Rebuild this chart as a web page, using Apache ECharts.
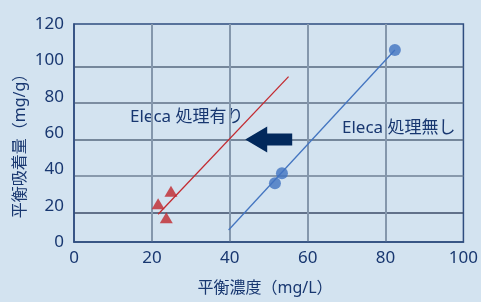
<!DOCTYPE html>
<html>
<head>
<meta charset="utf-8">
<script src="https://cdn.jsdelivr.net/npm/echarts@6/dist/echarts.min.js"></script>
<style>
  html, body { margin: 0; padding: 0; background: #d3e3f0; }
  #chart { width: 481px; height: 302px; }
</style>
</head>
<body>
<div id="chart"></div>
<script>
// 処理有り（赤）
var treatedX = [21.6, 24.9, 23.7];
var treatedY = [24.7, 31.6, 17.0];
var treatedFitX = [21.6, 55.1];
var treatedFitY = [18.9, 94.4];
// 処理無し（青）
var untreatedX = [51.6, 53.4, 82.4];
var untreatedY = [35.9, 41.4, 109.0];
var untreatedFitX = [39.7, 82.4];
var untreatedFitY = [10.3, 109.0];

var xTicks = [0, 20, 40, 60, 80, 100];
var yTicks = [0, 20, 40, 60, 80, 100, 120];

var FONT = "'Noto Sans', 'Noto Sans CJK JP', sans-serif";
var NAVY = "#183770";

function pairs(xs, ys) {
  return xs.map(function (x, i) { return [x, ys[i]]; });
}

var chart = echarts.init(document.getElementById("chart"));

var option = {
  backgroundColor: "#d3e3f0",
  animation: false,
  grid: {
    left: 74, right: 14, top: 24, bottom: 60,
    show: true,
    backgroundColor: "transparent",
    borderColor: "#2f4d7f",
    borderWidth: 1.5
  },
  xAxis: {
    type: "value",
    min: xTicks[0],
    max: xTicks[xTicks.length - 1],
    interval: 20,
    axisLine: { show: true, lineStyle: { color: "#2f4d7f", width: 1.5 } },
    axisTick: { show: false },
    axisLabel: { color: NAVY, fontSize: 17, fontFamily: FONT, margin: 8 },
    splitLine: {
      show: true,
      lineStyle: {
        width: 2,
        color: ["transparent", "#8497ac", "#8497ac", "#8497ac", "#8497ac", "transparent"]
      }
    }
  },
  yAxis: [
    {
      // 目盛り線とデータ用
      type: "value",
      min: 3.7,
      max: 123.3,
      position: "left",
      axisLine: { show: true, lineStyle: { color: "#2f4d7f", width: 1.5 } },
      axisTick: { show: false },
      axisLabel: { show: false },
      splitLine: {
        show: true,
        lineStyle: {
          width: 1.5,
          color: ["transparent", "#3b4b69", "#6f8196", "#56687f", "#5f7187", "#56687f", "transparent", "transparent"]
        }
      }
    },
    {
      // 目盛りラベル用
      type: "value",
      min: yTicks[0],
      max: yTicks[yTicks.length - 1],
      interval: 20,
      position: "left",
      axisLine: { show: false },
      axisTick: { show: false },
      splitLine: { show: false },
      axisLabel: { color: NAVY, fontSize: 17, fontFamily: FONT, margin: 10 }
    }
  ],
  series: [
    {
      type: "line",
      yAxisIndex: 0,
      data: pairs(treatedFitX, treatedFitY),
      symbol: "none",
      lineStyle: { color: "#c32a30", width: 1.3 },
      z: 2
    },
    {
      type: "line",
      yAxisIndex: 0,
      data: pairs(untreatedFitX, untreatedFitY),
      symbol: "none",
      lineStyle: { color: "#4475c0", width: 1.3 },
      z: 2,
      markPoint: {
        symbol: "path://M0,13 L22,0 L22,7 L47,7 L47,19 L22,19 L22,26 Z",
        symbolSize: [47, 26],
        itemStyle: { color: "#02295c" },
        label: { show: false },
        data: [{ coord: [50, 60] }]
      }
    },
    {
      type: "scatter",
      yAxisIndex: 0,
      data: pairs(treatedX, treatedY),
      symbol: "triangle",
      symbolSize: [13, 11],
      itemStyle: { color: "#c0272d" },
      z: 3
    },
    {
      type: "scatter",
      yAxisIndex: 0,
      data: pairs(untreatedX, untreatedY),
      symbol: "circle",
      symbolSize: 12,
      itemStyle: { color: "#4173c0" },
      z: 3
    }
  ],
  graphic: [
    {
      type: "text", x: 130, y: 117,
      style: { text: "Eleca 処理有り", font: "17px " + FONT, fill: NAVY, verticalAlign: "middle" }
    },
    {
      type: "text", x: 342, y: 128,
      style: { text: "Eleca 処理無し", font: "17px " + FONT, fill: NAVY, verticalAlign: "middle" }
    },
    {
      type: "text", x: 20, y: 142, rotation: Math.PI / 2,
      style: { text: "平衡吸着量（mg/g）", font: "16px " + FONT, fill: NAVY, align: "center", verticalAlign: "middle" }
    },
    {
      type: "text", x: 265, y: 288,
      style: { text: "平衡濃度（mg/L）", font: "16px " + FONT, fill: NAVY, align: "center", verticalAlign: "middle" }
    }
  ]
};

chart.setOption(option);
</script>
</body>
</html>
